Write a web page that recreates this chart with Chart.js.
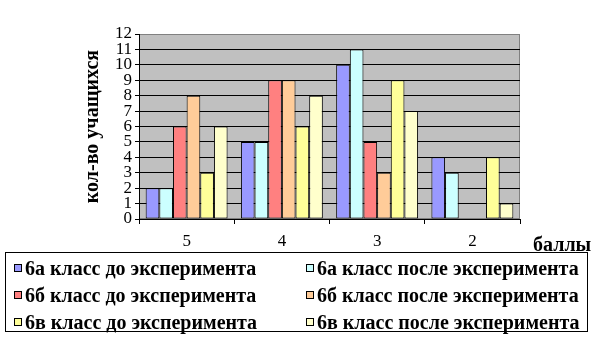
<!DOCTYPE html>
<html>
<head>
<meta charset="utf-8">
<script src="https://cdn.jsdelivr.net/npm/chart.js@4"></script>
<style>
  body { margin: 0; background: #fff; }
  #wrap { position: relative; width: 603px; height: 341px; }
  #legend {
    position: absolute; left: 5px; top: 252px; width: 583px; height: 80px;
    border: 1px solid #000; background: #fff; box-sizing: border-box;
    font: bold 20px "Liberation Serif", "Times New Roman", serif;
  }
  #legend div { position: absolute; height: 20px; line-height: 20px; display: flex; align-items: center; white-space: nowrap; }
  #legend span.box { width: 6px; height: 6px; border: 1px solid #000; margin-right: 3px; }
</style>
</head>
<body>
<div id="wrap">
  <canvas id="chart" width="603" height="341"></canvas>
  <div id="legend"></div>
</div>
<script>
// данные диаграммы
const categories = ['5', '4', '3', '2'];
const seriesNames = [
  '6а класс до эксперимента', '6а класс после эксперимента',
  '6б класс до эксперимента', '6б класс после эксперимента',
  '6в класс до эксперимента', '6в класс после эксперимента'
];
const a6Before = [2, 5, 10, 4];
const a6After = [2, 5, 11, 3];
const b6Before = [6, 9, 5, 0];
const b6After = [8, 9, 3, 0];
const v6Before = [3, 6, 9, 4];
const v6After = [6, 8, 7, 1];
const seriesColors = ['#9999FF', '#CCFFFF', '#FF8080', '#FFCC99', '#FFFF99', '#FFFFCC'];
const yTitle = 'кол-во учащихся';
const xTitle = 'баллы';

const seriesValues = [a6Before, a6After, b6Before, b6After, v6Before, v6After];
const serif = '"Liberation Serif", "Times New Roman", serif';

// серый фон области построения и подпись "баллы"
const plotBg = {
  id: 'plotBg',
  beforeDraw(chart) {
    const { ctx, chartArea: a } = chart;
    ctx.save();
    ctx.fillStyle = '#C0C0C0';
    ctx.fillRect(a.left, a.top, a.right - a.left, a.bottom - a.top);
    ctx.strokeStyle = '#808080';
    ctx.lineWidth = 1;
    ctx.strokeRect(a.left + 0.5, a.top + 0.5, a.right - a.left - 1, a.bottom - a.top - 1);
    ctx.restore();
  },
  afterDraw(chart) {
    const ctx = chart.ctx;
    ctx.save();
    ctx.font = 'bold 20px ' + serif;
    ctx.fillStyle = '#000';
    ctx.textBaseline = 'alphabetic';
    ctx.fillText(xTitle, 533, 251);
    ctx.restore();
  }
};

new Chart(document.getElementById('chart'), {
  type: 'bar',
  data: {
    labels: categories,
    datasets: seriesValues.map((vals, i) => ({
      label: seriesNames[i],
      data: vals,
      backgroundColor: seriesColors[i],
      borderColor: '#000',
      borderWidth: 1,
      borderSkipped: false
    }))
  },
  options: {
    responsive: false,
    animation: false,
    devicePixelRatio: 1,
    layout: { padding: { left: 0, top: 34, right: 83, bottom: 0 } },
    datasets: { bar: { categoryPercentage: 0.86, barPercentage: 1.0 } },
    plugins: { legend: { display: false }, tooltip: { enabled: false } },
    scales: {
      x: {
        grid: { drawOnChartArea: false, drawTicks: true, tickLength: 5, color: '#000' },
        border: { color: '#000' },
        ticks: { color: '#000', font: { family: serif, size: 17 }, padding: 7 },
        afterFit(scale) { scale.height = 122; }
      },
      y: {
        min: 0, max: 12,
        grid: {
          color: ctx => ctx.tick && ctx.tick.value === 12 ? '#808080' : '#000',
          tickColor: '#000', tickLength: 4
        },
        border: { color: '#000' },
        ticks: { stepSize: 1, autoSkip: false, color: '#000', font: { family: serif, size: 17 }, padding: 3 },
        title: {
          display: true, text: yTitle, color: '#000',
          font: { family: serif, size: 20, weight: 'bold' },
          padding: { top: 81, bottom: 0 }
        },
        afterFit(scale) { scale.width = 139; }
      }
    }
  },
  plugins: [plotBg]
});

// легенда в рамке, два столбца по три строки
const legend = document.getElementById('legend');
const colLeft = [8, 300];
const rowTop = [5, 32, 59];
seriesNames.forEach((name, i) => {
  const item = document.createElement('div');
  item.style.left = colLeft[i % 2] + 'px';
  item.style.top = rowTop[Math.floor(i / 2)] + 'px';
  item.innerHTML = `<span class="box" style="background:${seriesColors[i]}"></span>${name}`;
  legend.appendChild(item);
});
</script>
</body>
</html>
